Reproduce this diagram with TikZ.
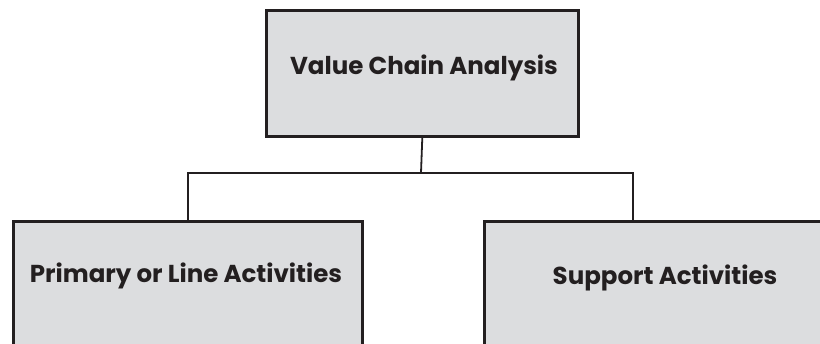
\documentclass[tikz,border=0pt]{standalone}
\usepackage{fontspec}
\setmainfont{Poppins}
\definecolor{boxfill}{HTML}{DCDDDF}
\definecolor{ink}{HTML}{231F20}
\begin{document}
\begin{tikzpicture}[x=1pt,y=-1pt,
  box/.style={draw=ink, fill=boxfill, line width=2.6pt, rectangle, inner sep=0pt},
  lbl/.style={text=ink, font=\fontsize{24.5}{28}\selectfont\bfseries, inner sep=0pt},
  conn/.style={draw=ink, line width=1.8pt}]
\useasboundingbox (0,0) rectangle (820,344);
\node[box, minimum width=312pt, minimum height=126pt, anchor=north west] (top) at (265,9) {};
\node[box, minimum width=349pt, minimum height=150pt, anchor=north west] (left) at (12,220) {};
\node[box, minimum width=360pt, minimum height=150pt, anchor=north west] (right) at (483,220) {};
\node[lbl] (tl) at (424,68) {Value Chain Analysis};
\node[lbl] (ll) at (186,276) {Primary or Line Activities};
\node[lbl] (rl) at (665,278) {Support Activities};
\coordinate (rj) at (633,220);
\coordinate (mid) at (421,173);
\draw[conn] (top.south) -- (mid);
\draw[conn] (mid) -| (left.north);
\draw[conn] (mid) -| (rj);
\end{tikzpicture}
\end{document}
